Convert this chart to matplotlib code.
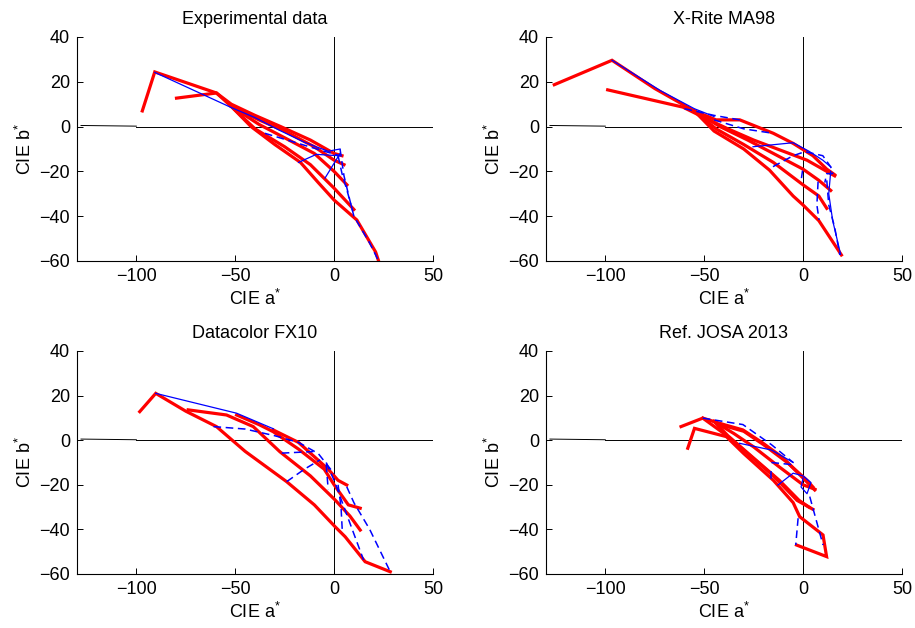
import matplotlib
matplotlib.use("Agg")
import matplotlib.pyplot as plt

plt.rcParams['font.family'] = ['Liberation Sans', 'DejaVu Sans']
plt.rcParams['mathtext.fontset'] = 'custom'
plt.rcParams['mathtext.rm'] = 'Liberation Sans'
plt.rcParams['mathtext.it'] = 'Liberation Sans:italic'

# --- data (CIE a*, b* polylines) ---

titles = ['Experimental data', 'X-Rite MA98', 'Datacolor FX10', 'Ref. JOSA 2013']

exp_red = [
    [(-97, 7), (-90.7, 24.4), (-59.5, 15), (-52, 10), (-40, 5), (-27, 0), (-12, -6), (0, -12), (4, -13)],
    [(-79.7, 12.7), (-59.5, 15), (-52, 9), (-38, 3), (-25, -2), (-10, -9), (0, -15), (5, -17)],
    [(-52, 9), (-38, 1), (-25, -5), (-10, -12), (0, -20), (6.5, -26)],
    [(-52, 9), (-40, -1), (-25, -9), (-12, -17), (0, -27.5), (10, -37)],
    [(-52, 9), (-42, 0), (-30, -8), (-17, -16), (-8, -25), (0, -32.8), (11.5, -41.7), (21, -56), (22.5, -60)],
]
exp_blue = [
    [(-90.7, 24.2), (-52, 8.5), (-40, 4), (-28, -1.5), (-15, -7), (-3, -11), (3, -10)],
    [(-18, -16), (-9, -12.4), (2.5, -13)],
    [(-4.6, -23), (3, -12)],
]
exp_blue_dash = [
    [(-35, -3), (-20, -7), (-5, -11), (3, -13)],
    [(3, -10), (5, -22), (8, -33), (10, -40), (18, -52), (22.5, -60)],
    [(2, -13), (4, -21), (7, -30), (9.5, -38)],
]

xrite_red = [
    [(-125.8, 18.7), (-96.6, 29.6), (-75, 17), (-55, 7), (-44, 3), (-32, 3), (-15, -3), (-5, -7.5), (5, -13), (12, -19), (16, -21.5)],
    [(-98.8, 16.4), (-60.8, 8.7), (-50, 4), (-38, -1), (-25, -6), (-10, -11), (2, -15), (10, -19), (16, -22)],
    [(-55, 7), (-42, 0), (-28, -6), (-15, -12), (0, -19), (8, -24), (14, -28.5)],
    [(-55, 7), (-44, -1), (-30, -8), (-15, -16), (0, -26), (8, -31), (12, -36.5)],
    [(-55, 7), (-45, -2), (-30, -10), (-17, -19.4), (-5, -31), (0, -35), (8, -42), (19.4, -57.3)],
]
xrite_blue = [
    [(-96.6, 29.6), (-72, 16), (-55, 8), (-45, 4.5)],
    [(-25.3, -9), (-5, -7.2), (3, -11), (10, -15), (14, -18)],
    [(14, -20), (13, -30), (15, -42), (19, -57)],
]
xrite_blue_dash = [
    [(-60, 8), (-45, 5), (-32, 3)],
    [(-45, 3), (-30, -1), (-15.2, -3)],
    [(-15.2, -17.9), (-5, -13), (0.9, -11.2), (10, -13), (14, -18), (15, -21), (12, -21), (11, -25)],
    [(-0.8, -23), (0, -18)],
    [(7.6, -24.6), (7, -35), (8.1, -41.7)],
    [(12, -24), (13, -35), (16, -45), (18.6, -57.3)],
]

fx10_red = [
    [(-98.3, 12.8), (-90.2, 21), (-75, 13), (-59.5, 6.1), (-45, -5), (-24, -18.6), (-10, -29), (0.5, -38.8), (5.6, -43.3), (15.7, -54.5), (28.4, -59)],
    [(-73.8, 13.6), (-54.4, 11.3), (-40.9, 6.1), (-27.4, -5.2), (-12, -16), (0.5, -26.8), (8, -34), (13.2, -40.3)],
    [(-49.3, 11.3), (-38, 7), (-30.8, 3.8), (-18, -4), (-5, -13), (0, -20), (7.2, -29), (13.2, -30.5)],
    [(-30.8, 4.6), (-18, -1), (-10.5, -7), (-3, -13), (2, -18), (6.4, -20.1)],
]
fx10_blue = [
    [(-90.2, 21), (-49.3, 12.1), (-30.7, 5.1)],
]
fx10_blue_dash = [
    [(-61, 6.1), (-45, 5), (-30, 2), (-18, -1), (-8, -6), (0, -15)],
    [(-26.5, -5.8), (-10.5, -5.1)],
    [(-24, -18.6), (-15, -13), (-7.1, -8.8)],
    [(-4, -11), (-3, -22)],
    [(-4, -10), (0, -18), (5, -30), (10, -42), (14.9, -53.7)],
    [(2, -20), (3.5, -30), (4.1, -40)],
    [(6.4, -20.9), (10, -28), (18, -40), (28.4, -59)],
]

josa_red = [
    [(-61.7, 6.1), (-50.7, 9.9), (-40, 7), (-30.4, 4.6), (-20.3, -1.3), (-10, -8), (0, -17), (5.9, -22.3)],
    [(-58.3, -3.6), (-54.9, 5.3), (-38.8, 1.6), (-30, -6), (-15, -18), (-5, -28), (-1.7, -34.3), (10.1, -42.5), (11.9, -52.2), (-3.3, -47)],
    [(-50.7, 9.9), (-40, 3), (-28, -6), (-15, -16), (-3, -27), (5, -31)],
    [(-45, 8.4), (-35, 3), (-25, -3), (-12, -12), (0, -20), (6, -22)],
    [(-45, 8.4), (-38, 2), (-25, -8), (-12, -18), (-2, -27), (3, -30)],
    [(-42, 7), (-30, 4), (-20, -2), (-8, -10), (2, -18), (5, -21)],
]
josa_blue = [
    [(-32.1, -1.4), (-16, -4.4), (-5, -10)],
    [(-12.7, -20.1), (-5, -14.8), (0, -16), (4, -19), (2, -24), (-1, -21), (0, -17)],
]
josa_blue_dash = [
    [(-50.7, 9.9), (-30.4, 7), (-16, -2), (-5, -10)],
    [(-16, -10), (-5, -11)],
    [(-2.5, -35), (-3.7, -47)],
    [(3.4, -25.3), (10.1, -47)],
    [(-16, -14), (-16, -19)],
]

panels = [
    (exp_red, exp_blue, exp_blue_dash),
    (xrite_red, xrite_blue, xrite_blue_dash),
    (fx10_red, fx10_blue, fx10_blue_dash),
    (josa_red, josa_blue, josa_blue_dash),
]

# left edge of the neutral axis, slightly off zero
axis_left_x = [-128, -100]
axis_left_y = [0.5, 0.2]


def draw(ax, title, red, blue, blue_dash):
    ax.plot(axis_left_x, axis_left_y, color='k', lw=0.7)
    ax.plot([-100, 50], [0, 0], color='k', lw=0.7)
    ax.plot([0, 0], [-60, 40], color='k', lw=0.7)
    for line in red:
        xs, ys = zip(*line)
        ax.plot(xs, ys, color='#ff0000', lw=2.3, solid_joinstyle='miter')
    for line in blue:
        xs, ys = zip(*line)
        ax.plot(xs, ys, color='#0000ff', lw=0.9)
    for line in blue_dash:
        xs, ys = zip(*line)
        ax.plot(xs, ys, color='#0000ff', lw=1.1, linestyle=(0, (5, 3)))
    ax.set_xlim(-130, 50)
    ax.set_ylim(-60, 40)
    ax.set_xticks([-100, -50, 0, 50])
    ax.set_yticks([-60, -40, -20, 0, 20, 40])
    ax.spines['top'].set_visible(False)
    ax.spines['right'].set_visible(False)
    ax.tick_params(direction='in', length=4, width=0.7, labelsize=13, pad=5)
    ax.set_title(title, fontsize=13, pad=9)
    ax.set_xlabel('CIE a$^{*}$', fontsize=13, labelpad=3)
    ax.set_ylabel('CIE b$^{*}$', fontsize=13, labelpad=3)


fig = plt.figure(figsize=(9.15, 6.28), dpi=100)
boxes = [
    [0.0842, 0.5844, 0.389, 0.3567],
    [0.5967, 0.5844, 0.389, 0.3567],
    [0.0842, 0.0860, 0.389, 0.3551],
    [0.5967, 0.0860, 0.389, 0.3551],
]
for box, title, (red, blue, dash) in zip(boxes, titles, panels):
    ax = fig.add_axes(box)
    draw(ax, title, red, blue, dash)

fig.savefig('out.png', dpi=100)
